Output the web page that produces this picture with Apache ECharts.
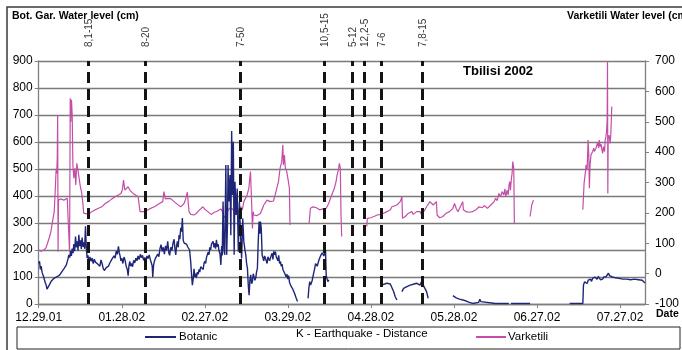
<!DOCTYPE html>
<html>
<head>
<meta charset="utf-8">
<script src="https://cdn.jsdelivr.net/npm/echarts@6/dist/echarts.min.js"></script>
<style>
  html, body { margin: 0; padding: 0; background: #fff; }
  #chart { width: 682px; height: 350px; }
</style>
</head>
<body>
<div id="chart"></div>
<script>
// Water levels, Tbilisi 2002. X values are days counted from 29 Dec 2001.
// Botanic garden well, cm (left axis). null breaks the line where records are missing.
const botanic = [
  [0,150],[0.3,158],[0.6,128],[0.9,140],[1.2,118],[1.5,124],[1.8,100],[2.1,96],[2.4,78],[2.7,70],[3.0,55],[3.3,62],[3.6,52],[3.9,72],[4.2,68],[4.5,84],[4.8,78],[5.2,92],[5.6,88],[6.0,98],[6.4,94],[6.8,102],[7.2,98],[7.6,108],[8.0,112],[8.4,120],[8.8,126],[9.2,132],[9.6,138],[10.0,145],[10.3,152],[10.6,168],[10.9,182],[11.2,172],[11.5,196],[11.8,178],[12.1,205],[12.4,188],[12.7,222],[13.0,196],[13.3,250],[13.6,210],[13.9,232],[14.2,198],[14.5,256],[14.8,214],[15.1,236],[15.4,204],[15.7,246],[16.0,212],[16.3,228],[16.6,205],[16.9,288],[17.2,206],[17.5,170],[17.8,180],[18.1,156],[18.5,174],[18.9,158],[19.3,170],[19.7,150],[20.1,166],[20.5,155],[20.9,162],[21.3,148],[21.7,155],[22.1,140],[22.5,163],[22.9,150],[23.3,132],[23.7,124],[24.0,118],[24.4,135],[24.8,128],[25.2,140],[25.6,150],[26.0,146],[26.4,165],[26.8,158],[27.2,178],[27.6,170],[28.0,196],[28.4,184],[28.8,214],[29.1,190],[29.4,178],[29.7,160],[30.0,170],[30.4,150],[30.8,174],[31.2,162],[31.6,140],[32.0,128],[32.3,105],[32.6,142],[32.9,158],[33.2,140],[33.5,150],[33.9,138],[34.3,162],[34.7,152],[35.1,170],[35.5,160],[35.9,178],[36.3,165],[36.7,184],[37.1,172],[37.5,180],[37.9,162],[38.3,172],[38.7,160],[39.1,178],[39.5,168],[39.9,182],[40.3,165],[40.7,152],[41.0,140],[41.2,100],[41.5,145],[41.8,158],[42.2,170],[42.6,165],[43.0,185],[43.4,175],[43.8,205],[44.2,220],[44.6,195],[45.0,210],[45.4,185],[45.8,215],[46.2,198],[46.6,232],[47.0,190],[47.3,180],[47.7,210],[48.1,198],[48.5,225],[48.9,240],[49.2,205],[49.5,182],[49.8,215],[50.1,232],[50.4,210],[50.7,255],[51.0,240],[51.3,282],[51.6,268],[51.9,318],[52.2,235],[52.6,225],[53.0,218],[53.4,222],[53.8,212],[54.2,210],[54.5,200],[54.9,157],[55.2,110],[55.5,70],[55.8,92],[56.1,130],[56.4,100],[56.7,112],[57.0,98],[57.3,118],[57.6,110],[57.9,128],[58.2,118],[58.5,138],[58.8,132],[59.1,142],[59.4,128],[59.7,150],[60.0,158],[60.3,150],[60.6,172],[60.9,165],[61.2,192],[61.5,182],[61.8,210],[62.1,200],[62.4,222],[62.7,215],[63.0,232],[63.3,210],[63.6,225],[63.9,205],[64.2,238],[64.5,212],[64.8,222],[65.1,198],[65.5,185],[65.8,145],[66.1,215],[66.3,180],[66.6,380],[66.9,200],[67.2,182],[67.6,515],[67.9,182],[68.2,300],[68.4,515],[68.7,380],[68.9,410],[69.1,478],[69.4,255],[69.7,641],[70.0,404],[70.3,601],[70.6,182],[70.9,453],[71.3,330],[71.7,428],[72.1,194],[72.5,379],[72.9,256],[73.3,169],[73.7,317],[74.1,231],[74.5,200],[74.8,182],[75.1,150],[75.4,132],[75.7,70],[76.0,33],[76.3,90],[76.6,108],[76.9,75],[77.2,83],[77.5,112],[77.8,100],[78.1,88],[78.4,96],[78.7,120],[79.0,132],[79.3,231],[79.6,305],[79.9,260],[80.1,305],[80.4,280],[80.7,182],[81.0,175],[81.3,160],[81.6,178],[81.9,170],[82.2,165],[82.5,150],[82.8,175],[83.1,182],[83.4,160],[83.7,170],[84.0,180],[84.3,188],[84.6,165],[84.9,195],[85.2,182],[85.5,194],[85.8,175],[86.1,182],[86.4,160],[86.7,180],[87.0,150],[87.3,158],[87.6,140],[87.9,148],[88.2,128],[88.5,135],[88.8,115],[89.1,122],[89.4,100],[89.7,110],[90.0,92],[90.3,105],[90.6,80],[90.9,86],[91.2,65],[91.5,72],[91.8,55],[92.1,60],[92.4,40],[92.7,45],[93.0,22],[93.3,28],[93.5,9],
  [95,null],
  [97.3,21],[97.6,60],[97.9,83],[98.2,70],[98.5,78],[98.8,88],[99.1,95],[99.4,118],[99.7,132],[100.0,150],[100.3,157],[100.6,140],[100.9,145],[101.2,162],[101.5,170],[101.8,178],[102.1,182],[102.4,190],[102.7,194],[103.0,178],[103.3,182],[103.6,200],[103.85,107],[104.1,95],[104.45,83],[104.8,89],
  [110,null],
  [123.7,70],[124.3,73],[125,74],[125.8,77],[126.5,75],[127,74],[127.6,70],[128.2,46],[128.8,27],[129.4,15],
  [130.3,null],
  [131.2,46],[131.8,58],[133,64],[134.2,70],[135.3,73],[136.5,77],[137.1,74],[137.7,70],[138.3,83],[138.9,70],[139.5,58],[140.1,46],[140.7,21],
  [145,null],
  [149.6,31],[150.8,23],[152,18],[153.2,15],[154.4,11],[155.6,6],[156.7,2],[158.9,6],[159.35,18],[159.7,9],[160.3,2],[165,2],[169.8,2],
  [170.2,null],
  [170.6,2],[177.5,2],
  [185,null],
  [191.8,2],[196.55,2],[196.78,70],[197.2,82],[197.7,89],[198.1,76],[198.5,88],[198.9,83],[199.3,92],[199.7,84],[200.1,95],[200.5,88],[200.9,100],[201.3,101],[201.7,92],[202.1,102],[202.5,97],[202.9,90],[203.3,96],[203.7,92],[204.1,100],[204.5,96],[204.9,101],[205.4,108],[205.8,114],[206.2,105],[206.65,107],[207.2,100],[207.8,101],[208.4,97],[209,100],[209.6,95],[210.3,98],[211,92],[211.7,96],[212.4,92],[213.1,95],[213.8,90],[214.5,94],[215.2,92],[215.9,96],[216.6,90],[217.3,94],[218,88],[218.5,85],[219,78]
];

// Varketili well, cm (right axis).
const varketili = [
  [0,78],[0.8,74],[2.0,78],[2.6,85],[3.2,100],[3.8,118],[4.4,138],[5.0,171],[5.6,204],[5.9,259],[6.1,300],[6.3,345],[6.5,330],[6.7,380],[6.85,522],[7.0,72],[7.15,242],[7.9,246],[9.1,242],[10.3,248],[10.9,253],[11.15,72],[11.4,577],[11.6,500],[11.85,572],[12.1,522],[12.35,358],[12.7,314],[13.05,347],[13.4,292],[13.75,363],[14.25,336],[14.7,341],[15.05,286],[15.45,270],[15.9,237],[16.25,199],[16.9,193],[18.0,195],[19.2,204],[20.4,210],[21.6,215],[22.8,220],[24.0,231],[25.2,237],[26.4,246],[27.0,248],[27.6,253],[28.2,250],[28.8,259],[29.3,255],[29.7,264],[30.2,275],[30.65,308],[31.1,275],[31.7,270],[32.3,286],[32.9,275],[33.5,270],[34.1,264],[34.7,259],[35.9,253],[36.35,248],[36.6,204],[38.2,204],[40.0,213],[41.8,220],[43.6,231],[44.8,237],[45.25,270],[45.75,246],[46.6,248],[47.8,246],[48.9,237],[50.1,228],[51.3,220],[51.9,226],[52.5,231],[53.1,246],[53.7,268],[54.05,270],[54.3,204],[54.9,195],[56.1,193],
  [56.9,198],[58.1,210],[59.3,220],[59.9,213],[61.1,204],[62.3,195],[63.5,202],[64.6,206],[65.8,213],[66.4,204],[67.0,184],[67.6,193],[68.2,204],[68.8,215],[69.4,220],[70.0,213],[70.6,204],[71.2,210],[71.8,193],[72.4,213],[73.0,220],[73.55,210],[74.1,237],[74.7,248],[75.3,259],[75.9,281],[76.5,336],[76.9,237],[77.2,149],[77.5,204],[77.7,193],[78.9,191],[80.1,198],[81.3,226],[82.5,242],[83.6,237],[84.8,239],[85.4,259],[86.0,281],[86.6,303],[87.2,347],[87.8,369],[88.17,424],[88.4,358],[88.76,390],[89.1,347],[89.6,336],[90.2,303],[90.55,281],[90.78,160],
  [94,null],
  [97.67,166],[98.15,215],[99.1,220],[100.3,217],[101.5,210],[102.7,213],[103.85,215],[104.45,226],[105.0,237],[105.6,253],[106.2,259],[106.8,281],[107.4,303],[107.8,325],[108.25,341],[108.6,363],[108.95,347],[109.2,193],[109.44,122],
  [114,null],
  [118.5,155],[118.7,182],[119.9,184],[121.1,188],[122.3,193],[123.5,195],[124.65,199],[125.8,204],[127.0,210],[127.6,220],[128.2,215],[129.4,226],[130.6,237],[131.2,253],[131.42,182],[132.4,188],[133.0,193],[133.6,199],[134.2,193],[134.75,204],[135.3,195],[135.9,193],[136.5,204],[137.1,210],[137.7,204],[138.3,195],[138.9,199],[139.5,210],[140.1,220],[140.7,226],[141.3,237],[141.9,231],[142.5,226],[143.1,231],[143.66,237],[143.9,193],[144.85,184],[146.0,188],[147.2,199],[148.4,204],[149.6,215],[150.2,231],[150.8,215],[151.4,204],[152.0,210],[152.6,226],[153.17,237],[153.4,210],[154.4,204],[155.55,202],[156.7,204],[157.9,210],[158.5,215],[159.1,220],[159.7,215],[160.3,217],[160.9,224],[161.5,220],[162.1,215],[162.7,220],[163.3,226],[163.9,231],[164.5,237],[165.05,248],[165.6,240],[166.24,264],[166.84,253],[167.4,270],[168.0,259],[168.4,279],[168.7,253],[169.2,275],[169.6,259],[169.9,292],[170.16,303],[170.4,275],[170.76,314],[171.0,330],[171.23,369],[171.47,371],[171.6,347],[171.83,166],
  [174,null],
  [177.5,188],[178.1,226],[178.7,242],
  [185,null],
  [196.55,210],[197.0,297],[197.5,336],[197.73,358],[198.1,341],[198.45,440],[198.7,391],[198.92,281],[199.16,358],[199.5,391],[200.1,402],[200.5,413],[200.7,402],[201.3,413],[201.9,432],[202.25,413],[202.5,440],[202.84,418],[203.1,426],[203.7,396],[204.0,418],[204.4,402],[204.63,440],[204.9,451],[205.1,467],[205.34,506],[205.46,698],[205.58,264],[205.7,445],[206.06,456],[206.41,429],[206.65,456],[207.0,550]
];

// Earthquakes: day of the event and its "K - distance" tag.
const quakeDays = [18.04, 38.5, 72.73, 103.25, 113.23, 117.5, 123.57, 138.54];
const quakeLabels = ['8,1-15', '8-20', '7-50', '10,5-15', '5-12', '12,2-5', '7-6', '7,8-15'];

// Date ticks every 30 days.
const dateTicks = [0, 30, 60, 90, 120, 150, 180, 210];
const startDate = Date.UTC(2001, 11, 29);

function dayLabel(d) {
  const t = new Date(startDate + Math.round(d) * 86400000);
  const p = n => String(n).padStart(2, '0');
  return p(t.getUTCMonth() + 1) + '.' + p(t.getUTCDate()) + '.' + String(t.getUTCFullYear()).slice(2);
}

const FONT = 'Liberation Sans, Arial, sans-serif';
const chart = echarts.init(document.getElementById('chart'), null, { renderer: 'canvas' });

chart.setOption({
  animation: false,
  backgroundColor: '#fff',
  textStyle: { fontFamily: FONT },
  grid: { left: 38.7, right: 28.7, top: 61, bottom: 46, containLabel: false },
  title: [
    { text: 'Bot. Gar. Water level (cm)', left: 12, top: 11, padding: 0,
      textStyle: { fontFamily: FONT, fontSize: 10.5, fontWeight: 'bold', color: '#000' } },
    { text: 'Varketili Water level (cm)', left: 567, top: 11, padding: 0,
      textStyle: { fontFamily: FONT, fontSize: 10.5, fontWeight: 'bold', color: '#000' } },
    { text: 'Tbilisi 2002', left: 463, top: 65, padding: 0,
      textStyle: { fontFamily: FONT, fontSize: 13, fontWeight: 'bold', color: '#000' } },
    { text: 'Date', left: 656, top: 309, padding: 0,
      textStyle: { fontFamily: FONT, fontSize: 10.5, fontWeight: 'bold', color: '#000' } }
  ],
  legend: [
    { data: [{ name: 'Botanic', icon: 'rect' }], left: 145, top: 331, padding: 0,
      itemWidth: 31, itemHeight: 2,
      textStyle: { fontFamily: FONT, fontSize: 11.5, color: '#000', padding: [0, 0, 0, -2] } },
    { data: [{ name: 'K - Earthquake - Distance', icon: 'none' }], left: 291, top: 328, padding: 0,
      itemWidth: 0, itemHeight: 12, selectedMode: false,
      textStyle: { fontFamily: FONT, fontSize: 11.5, color: '#000' } },
    { data: [{ name: 'Varketili', icon: 'rect' }], left: 476, top: 331, padding: 0,
      itemWidth: 30, itemHeight: 2,
      textStyle: { fontFamily: FONT, fontSize: 11.5, color: '#000', padding: [0, 0, 0, -3] } }
  ],
  xAxis: {
    type: 'value', min: 0, max: 219, interval: 30,
    axisLine: { show: true, onZero: false, lineStyle: { color: '#808080', width: 1.3 } },
    axisTick: { show: true, length: 4, customValues: dateTicks, lineStyle: { color: '#808080' } },
    axisLabel: { customValues: dateTicks, formatter: dayLabel, margin: 8,
      fontFamily: FONT, fontSize: 12, color: '#000' },
    splitLine: { show: false }
  },
  yAxis: [
    { type: 'value', min: 0, max: 900, interval: 100, position: 'left',
      axisLine: { show: true, lineStyle: { color: '#808080', width: 1.3 } },
      axisTick: { show: true, length: 4, lineStyle: { color: '#808080' } },
      axisLabel: { margin: 6, fontFamily: FONT, fontSize: 12, color: '#000' },
      splitLine: { show: true, lineStyle: { color: '#7a7a7a', width: 1.3 } } },
    { type: 'value', min: -100, max: 700, interval: 100, position: 'right',
      axisLine: { show: true, lineStyle: { color: '#808080', width: 1.3 } },
      axisTick: { show: true, length: 4, lineStyle: { color: '#808080' } },
      axisLabel: { margin: 10, fontFamily: FONT, fontSize: 12, color: '#000' },
      splitLine: { show: false } }
  ],
  series: [
    { name: 'Botanic', type: 'line', yAxisIndex: 0, data: botanic, symbol: 'none',
      connectNulls: false, lineStyle: { color: '#1f2678', width: 1.4 },
      itemStyle: { color: '#1f2678' }, z: 3 },
    { name: 'Varketili', type: 'line', yAxisIndex: 1, data: varketili, symbol: 'none',
      connectNulls: false, lineStyle: { color: '#c44ea7', width: 1.2 },
      itemStyle: { color: '#c44ea7' }, z: 2 },
    { name: 'K - Earthquake - Distance', type: 'scatter', yAxisIndex: 0, symbolSize: 0, z: 5,
      data: quakeDays.map((d, i) => ({ name: quakeLabels[i], value: [d, 900] })),
      label: { show: true, formatter: '{b}', position: [1, -14], rotate: 90,
        align: 'left', verticalAlign: 'middle', fontFamily: FONT, fontSize: 10, color: '#000' },
      markLine: {
        silent: true, symbol: ['none', 'none'], animation: false,
        label: { show: false },
        lineStyle: { color: '#141414', width: 3, type: [11, 6] },
        data: quakeDays.map(d => ({ xAxis: d }))
      } }
  ],
  graphic: [
    { type: 'rect', silent: true, z: -1,
      shape: { x: 7, y: 7, width: 690, height: 345 },
      style: { fill: null, stroke: '#3a3a3a', lineWidth: 1.5 } },
    { type: 'rect', silent: true, z: -1,
      shape: { x: 17, y: 327, width: 663, height: 22 },
      style: { fill: null, stroke: '#222', lineWidth: 1 } }
  ]
});
</script>
</body>
</html>
